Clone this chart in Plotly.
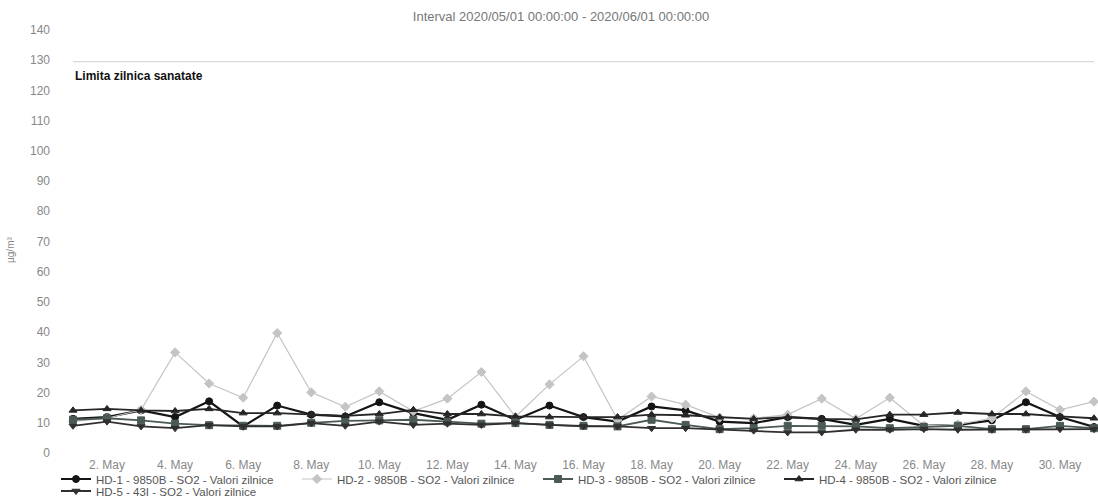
import plotly.graph_objects as go

# ---- data ----
days = [f"2020-05-{d:02d}" for d in range(1, 32)]

hd1 = [11.3, 11.9, 14.1, 11.9, 17.1, 8.8, 15.7, 12.7, 12.1, 16.8,
       13.2, 11.0, 16.0, 11.0, 15.7, 11.9, 10.4, 15.4, 14.1, 10.4,
       9.9, 11.9, 11.3, 9.3, 11.3, 9.0, 9.3, 10.8, 16.8, 11.9, 8.6]
hd2 = [10.5, 11.5, 14.3, 33.3, 23.0, 18.3, 39.7, 20.1, 15.3, 20.4,
       13.8, 18.0, 26.8, 12.0, 22.7, 32.0, 11.0, 18.7, 16.0, 11.7,
       11.5, 12.7, 18.0, 11.3, 18.3, 9.0, 9.5, 11.5, 20.4, 14.3, 17.0]
hd3 = [11.0, 11.5, 10.8, 9.7, 9.2, 9.0, 9.0, 10.0, 10.6, 10.8,
       11.0, 10.4, 9.7, 9.9, 9.3, 9.0, 8.8, 11.0, 9.3, 7.9,
       8.2, 9.0, 9.0, 8.8, 8.2, 8.6, 9.0, 7.9, 7.9, 9.0, 8.2]
hd4 = [14.1, 14.6, 14.1, 13.9, 14.6, 13.2, 13.2, 12.7, 12.3, 12.9,
       14.3, 12.9, 12.9, 12.1, 11.9, 11.9, 11.9, 12.7, 12.5, 11.8,
       11.3, 11.9, 11.3, 11.1, 12.7, 12.7, 13.4, 12.9, 12.9, 12.1, 11.5]
hd5 = [9.0, 10.4, 8.8, 8.2, 9.2, 8.8, 8.8, 9.9, 9.0, 10.4,
       9.3, 9.7, 9.3, 9.9, 9.3, 8.8, 8.8, 8.2, 8.2, 7.7,
       7.4, 6.8, 6.8, 7.7, 7.7, 7.9, 7.7, 7.7, 7.7, 7.9, 7.9]

series_names = [
    "HD-1 - 9850B - SO2 - Valori zilnice",
    "HD-2 - 9850B - SO2 - Valori zilnice",
    "HD-3 - 9850B - SO2 - Valori zilnice",
    "HD-4 - 9850B - SO2 - Valori zilnice",
    "HD-5 - 43I - SO2 - Valori zilnice",
]

limit_value = 129.5
limit_label = "Limita zilnica sanatate"

tick_days = [f"2020-05-{d:02d}" for d in range(2, 31, 2)]
tick_labels = [f"{d}. May" for d in range(2, 31, 2)]

y_ticks = list(range(0, 141, 10))

# ---- styling ----
FONT = "Liberation Sans, Arial, sans-serif"
colors = ["#151515", "#c4c4c4", "#4b5a54", "#262626", "#303030"]
symbols = ["circle", "diamond", "square", "triangle-up", "triangle-down"]
line_widths = [2.2, 1.2, 1.8, 1.8, 1.8]
legend_ids = ["legend", "legend", "legend", "legend", "legend2"]

W, H = 1098, 497
L, R, T, B = 73, 4, 30, 44
plot_w = W - L - R

fig = go.Figure()

# limit line
fig.add_trace(go.Scatter(
    x=[days[0], days[-1]], y=[limit_value, limit_value],
    mode="lines", line=dict(color="#cfcfcf", width=1.2),
    showlegend=False, hoverinfo="skip", cliponaxis=False,
))

for name, vals, col, sym, lw, lg in zip(series_names, [hd1, hd2, hd3, hd4, hd5],
                                        colors, symbols, line_widths, legend_ids):
    fig.add_trace(go.Scatter(
        x=days, y=vals, name=name, mode="lines+markers",
        line=dict(color=col, width=lw),
        marker=dict(symbol=sym, size=7, color=col,
                    line=dict(color=col, width=1)),
        legend=lg, cliponaxis=False,
    ))

fig.add_annotation(
    x=0, xref="paper", y=limit_value, yref="y",
    text=f"<b>{limit_label}</b>", showarrow=False,
    xanchor="left", yanchor="middle", xshift=0, yshift=-14,
    font=dict(family=FONT, size=12, color="#111"),
)

fig.add_annotation(
    x=(11 - L) / plot_w, xref="paper", y=0.48, yref="paper",
    text="µg/m³", textangle=-90, showarrow=False,
    xanchor="center", yanchor="middle",
    font=dict(family=FONT, size=10, color="#888"),
)

fig.update_layout(
    width=W, height=H,
    paper_bgcolor="white", plot_bgcolor="white",
    margin=dict(l=L, r=R, t=T, b=B, autoexpand=False),
    font=dict(family=FONT, size=12, color="#666"),
    title=dict(
        text="Interval 2020/05/01 00:00:00 - 2020/06/01 00:00:00",
        x=561 / W, xref="container", xanchor="center",
        y=1 - 16 / H, yref="container", yanchor="middle",
        pad=dict(t=0, b=0, l=0, r=0),
        font=dict(size=13, color="#777"),
    ),
    xaxis=dict(
        type="date", range=[days[0], days[-1]],
        tickmode="array", tickvals=tick_days, ticktext=tick_labels,
        showgrid=False, zeroline=False, showline=False, ticks="",
        ticklabelstandoff=3,
        tickfont=dict(size=12, color="#888"),
    ),
    yaxis=dict(
        range=[0, 140], tickmode="array", tickvals=y_ticks,
        showgrid=False, zeroline=False, showline=False, ticks="",
        ticklabelstandoff=22,
        tickfont=dict(size=12, color="#888"),
    ),
    legend=dict(
        orientation="h", xref="container", yref="container",
        x=56 / W, y=(H - 479) / H, xanchor="left", yanchor="middle",
        font=dict(size=11.5, color="#555"), itemwidth=30,
        entrywidth=196, bgcolor="rgba(0,0,0,0)",
    ),
    legend2=dict(
        orientation="h", xref="container", yref="container",
        x=56 / W, y=(H - 491) / H, xanchor="left", yanchor="middle",
        font=dict(size=11.5, color="#555"), itemwidth=30,
        bgcolor="rgba(0,0,0,0)",
    ),
    showlegend=True,
)

fig.write_html(
    "out.html",
    config={"displayModeBar": False},
    post_script="document.body.style.margin='0';document.body.style.padding='0';",
)
